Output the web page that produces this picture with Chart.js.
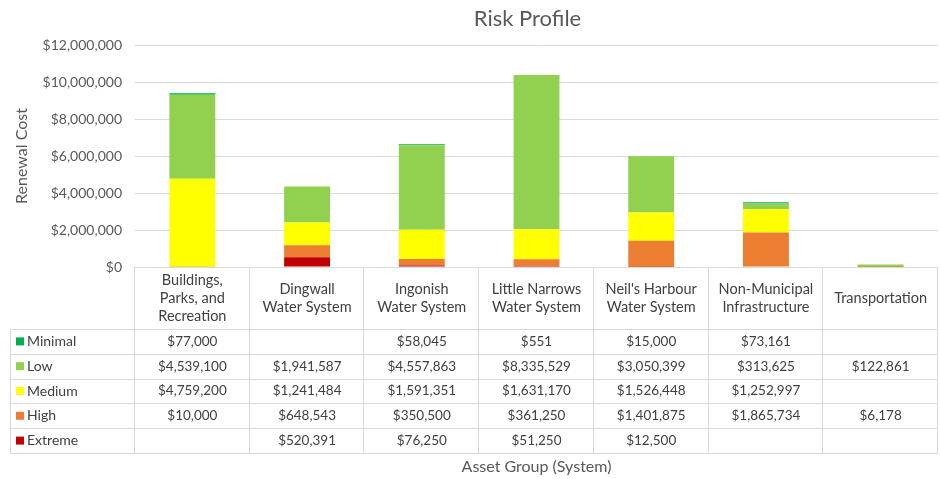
<!DOCTYPE html>
<html>
<head>
<meta charset="utf-8">
<script src="https://cdn.jsdelivr.net/npm/chart.js@4.4.1/dist/chart.umd.min.js"></script>
<style>
  html, body { margin: 0; padding: 0; background: #fff; }
  #wrap { width: 940px; height: 479px; }
</style>
</head>
<body>
<div id="wrap"><canvas id="riskChart" width="940" height="479"></canvas></div>
<script>
// data
const categories = [
  ["Buildings,", "Parks, and", "Recreation"],
  ["Dingwall", "Water System"],
  ["Ingonish", "Water System"],
  ["Little Narrows", "Water System"],
  ["Neil's Harbour", "Water System"],
  ["Non-Municipal", "Infrastructure"],
  ["Transportation"]
];
const minimal = [77000, null, 58045, 551, 15000, 73161, null];
const low = [4539100, 1941587, 4557863, 8335529, 3050399, 313625, 122861];
const medium = [4759200, 1241484, 1591351, 1631170, 1526448, 1252997, null];
const high = [10000, 648543, 350500, 361250, 1401875, 1865734, 6178];
const extreme = [null, 520391, 76250, 51250, 12500, null, null];
const yTicks = [0, 2000000, 4000000, 6000000, 8000000, 10000000, 12000000];

const txt = "#404040";
const grey = "#595959";
const lineCol = "#d9d9d9";
const fontFam = "Lato, 'Open Sans', sans-serif";

function money(v) {
  return "$" + v.toLocaleString("en-US");
}

// table rows in display order (top to bottom)
const rows = [
  { name: "Minimal", data: minimal, color: "#00B050" },
  { name: "Low", data: low, color: "#92D050" },
  { name: "Medium", data: medium, color: "#FFFF00" },
  { name: "High", data: high, color: "#ED7D31" },
  { name: "Extreme", data: extreme, color: "#C00000" }
];

// Data table under the plot + titles
const dataTable = {
  id: "dataTable",
  afterDraw(chart) {
    const ctx = chart.ctx;
    const area = chart.chartArea;
    const xs = chart.scales.x;
    const colW = (area.right - area.left) / categories.length;
    const headTop = area.bottom;
    const headBottom = 329;
    const rowH = 24.8;
    const tableLeft = 10;
    const tableBottom = headBottom + rowH * rows.length;

    ctx.save();
    ctx.strokeStyle = lineCol;
    ctx.lineWidth = 1;

    // vertical lines
    for (let i = 0; i <= categories.length; i++) {
      const x = Math.round(area.left + colW * i) - 0.5;
      ctx.beginPath();
      ctx.moveTo(x, headTop);
      ctx.lineTo(x, tableBottom);
      ctx.stroke();
    }
    ctx.beginPath();
    ctx.moveTo(tableLeft + 0.5, headBottom);
    ctx.lineTo(tableLeft + 0.5, tableBottom);
    ctx.stroke();

    // horizontal lines
    for (let r = 0; r <= rows.length; r++) {
      const y = Math.round(headBottom + rowH * r) + 0.5;
      ctx.beginPath();
      ctx.moveTo(tableLeft, y);
      ctx.lineTo(area.right, y);
      ctx.stroke();
    }

    // header labels
    ctx.fillStyle = txt;
    ctx.font = "14.5px " + fontFam;
    ctx.textAlign = "center";
    ctx.textBaseline = "middle";
    const lh = 18;
    categories.forEach((lab, i) => {
      const cx = xs.getPixelForValue(i);
      const midY = (headTop + headBottom) / 2;
      const y0 = midY - (lab.length - 1) * lh / 2;
      lab.forEach((line, k) => ctx.fillText(line, cx, y0 + k * lh));
    });

    // rows
    rows.forEach((row, r) => {
      const cy = headBottom + rowH * r + rowH / 2;
      ctx.fillStyle = row.color;
      ctx.fillRect(tableLeft + 6, cy - 4, 8, 8);
      ctx.fillStyle = txt;
      ctx.font = "14px " + fontFam;
      ctx.textAlign = "left";
      ctx.fillText(row.name, tableLeft + 17, cy);
      ctx.font = "13.5px " + fontFam;
      ctx.textAlign = "center";
      row.data.forEach((v, i) => {
        if (v == null) return;
        ctx.fillText(money(v), xs.getPixelForValue(i), cy);
      });
    });

    // x axis title
    ctx.font = "16px " + fontFam;
    ctx.fillStyle = grey;
    ctx.fillText("Asset Group (System)", (area.left + area.right) / 2, 467);

    // chart title
    ctx.font = "22px " + fontFam;
    ctx.fillText("Risk Profile", (area.left + area.right) / 2 - 9, 19);
    ctx.restore();
  }
};

// stacking order: extreme at the bottom, minimal on top
const stackOrder = [rows[4], rows[3], rows[2], rows[1], rows[0]];

new Chart(document.getElementById("riskChart"), {
  type: "bar",
  data: {
    labels: categories.map(c => c.join(" ")),
    datasets: stackOrder.map(r => ({
      label: r.name,
      data: r.data,
      backgroundColor: r.color,
      categoryPercentage: 1,
      barPercentage: 0.4
    }))
  },
  options: {
    responsive: false,
    animation: false,
    layout: { padding: { left: 0, right: 2, top: 45, bottom: 212 } },
    plugins: {
      legend: { display: false },
      tooltip: { enabled: false },
      title: { display: false }
    },
    scales: {
      x: {
        stacked: true,
        display: false
      },
      y: {
        stacked: true,
        min: 0,
        max: 12000000,
        afterBuildTicks: axis => { axis.ticks = yTicks.map(v => ({ value: v })); },
        afterFit: axis => { axis.width = 135; },
        border: { display: false },
        grid: { color: lineCol, drawTicks: false },
        ticks: {
          color: grey,
          padding: 13,
          font: { family: fontFam, size: 14 },
          callback: v => money(v)
        },
        title: {
          display: true,
          text: "Renewal Cost",
          color: grey,
          font: { family: fontFam, size: 16 },
          padding: { top: 12, bottom: 0 }
        }
      }
    }
  },
  plugins: [dataTable]
});
</script>
</body>
</html>
